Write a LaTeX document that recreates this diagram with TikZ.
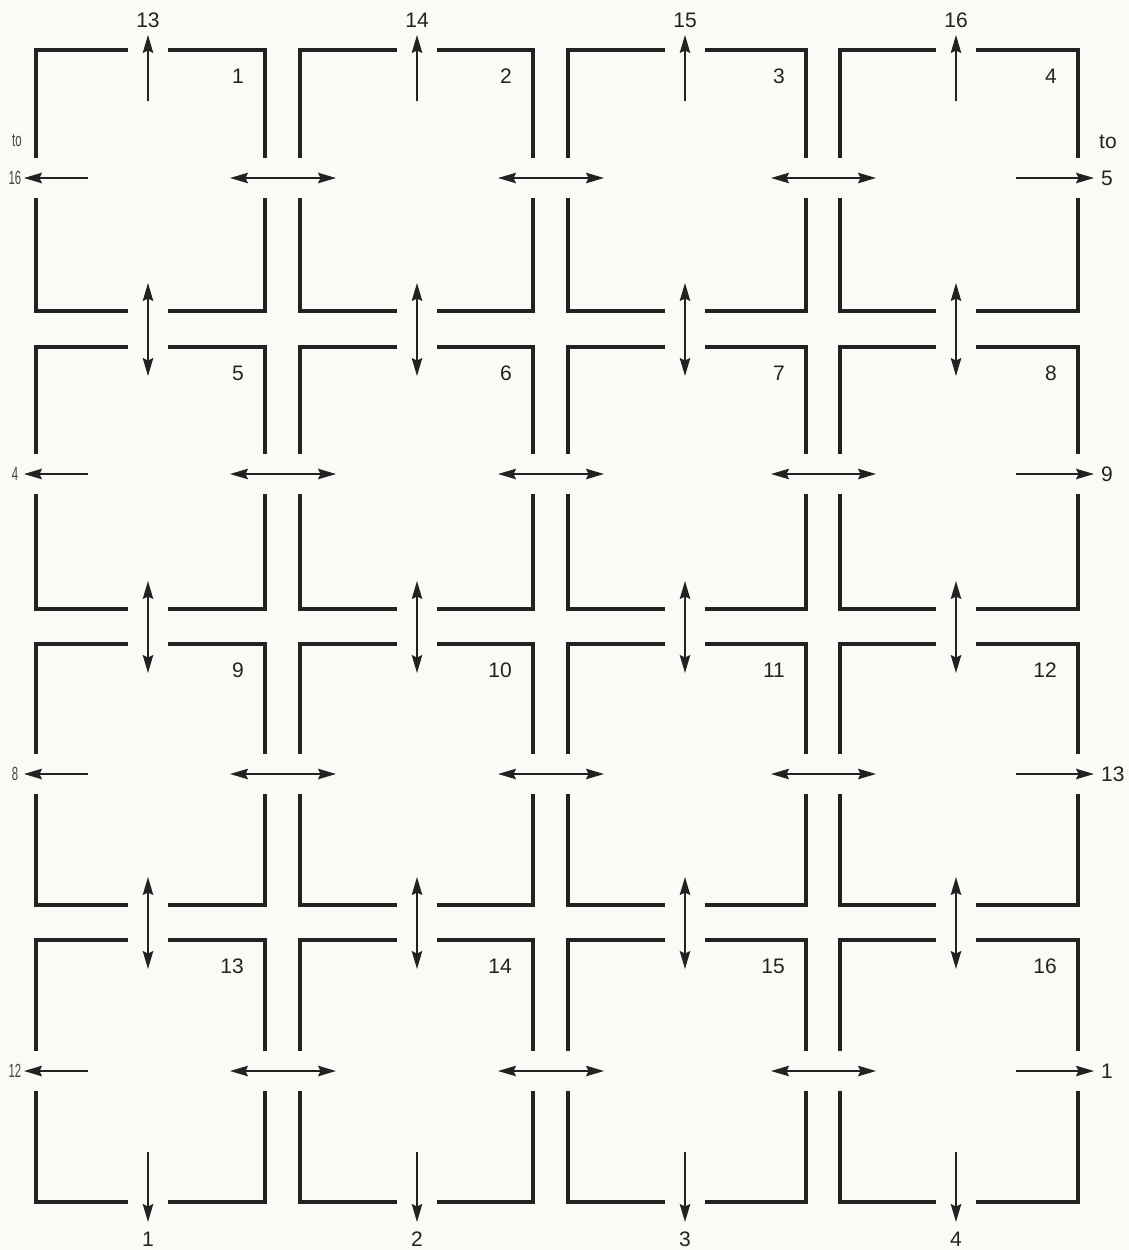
\documentclass[tikz,border=0pt]{standalone}
\usepackage{fontspec}
\setmainfont{Liberation Sans}
\usetikzlibrary{arrows.meta}
\definecolor{ink}{RGB}{34,34,34}
\definecolor{paper}{RGB}{250,250,247}
\newcommand{\narrowtxt}[1]{\scalebox{0.6}[1]{#1}}
\begin{document}
\begin{tikzpicture}[x=1pt,y=-1pt,
  wall/.style={line width=3.4pt, draw=ink, line join=miter, line cap=butt},
  tip/.tip={Stealth[length=18pt,width=10.5pt,inset=2.5pt]},
  arr/.style={line width=1.6pt, draw=ink, -tip},
  darr/.style={line width=1.6pt, draw=ink, tip-tip},
  lab/.style={font=\fontsize{21}{21}\selectfont, text=ink, inner sep=0pt},
  sidelab/.style={font=\fontsize{19}{19}\selectfont, text=ink!85, inner sep=0pt}]
\fill[paper] (0,0) rectangle (1129,1250);
\useasboundingbox (0,0) rectangle (1129,1250);
% rooms
\foreach \c/\L/\R/\xd in {1/36/265/148, 2/300/533/417, 3/568/806/685, 4/840/1078/956} {
  \foreach \r/\T/\B/\yd in {1/50/311/178, 2/347/609/474, 3/644/905/774, 4/940/1202/1071} {
    \draw[wall] (\xd-20,\T) -- (\L,\T) -- (\L,\yd-20);
    \draw[wall] (\xd+20,\T) -- (\R,\T) -- (\R,\yd-20);
    \draw[wall] (\xd-20,\B) -- (\L,\B) -- (\L,\yd+20);
    \draw[wall] (\xd+20,\B) -- (\R,\B) -- (\R,\yd+20);
    \pgfmathtruncatemacro\n{(\r-1)*4+\c}
    \node[lab, anchor=north east] (room\n) at (\R-21,\T+19) {\n};
  }
}
% vertical doors between rows
\foreach \xd in {148, 417, 685, 956} {
  \foreach \B/\T in {311/347, 609/644, 905/940} {
    \draw[darr] (\xd,\B-28) -- (\xd,\T+29);
  }
}
% horizontal doors between columns
\foreach \yd in {178, 474, 774, 1071} {
  \foreach \R/\L in {265/300, 533/568, 806/840} {
    \draw[darr] (\R-35,\yd) -- (\L+36,\yd);
  }
}
% top and bottom exits
\foreach \xd/\t/\b in {148/13/1, 417/14/2, 685/15/3, 956/16/4} {
  \node[lab] (top\t) at (\xd,20) {\t};
  \draw[arr] (\xd,101) -- (\xd,35);
  \node[lab] (bot\b) at (\xd,1239) {\b};
  \draw[arr] (\xd,1152) -- (\xd,1222);
}
% left exits
\foreach \yd/\t in {178/16, 474/4, 774/8, 1071/12} {
  \node[sidelab] (left\t) at (15,\yd) {\narrowtxt{\t}};
  \draw[arr] (88,\yd) -- (24,\yd);
}
\node[sidelab] (leftto) at (17,140) {\narrowtxt{to}};
% right exits
\foreach \yd/\t in {178/5, 474/9, 774/13, 1071/1} {
  \node[lab, anchor=west] (right\t) at (1101,\yd) {\t};
  \draw[arr] (1016,\yd) -- (1094,\yd);
}
\node[lab, anchor=west] (rightto) at (1099,142) {to};
\end{tikzpicture}
\end{document}
